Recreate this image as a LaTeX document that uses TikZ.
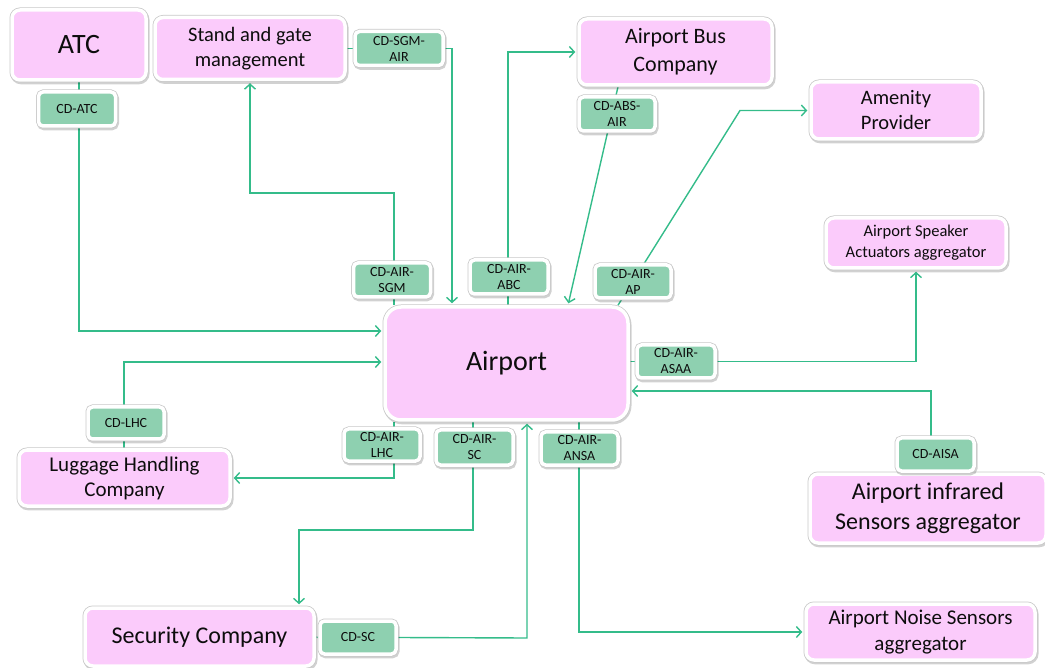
\documentclass[tikz,border=0pt]{standalone}
\usepackage{fontspec}
\setmainfont{Carlito}
\usetikzlibrary{arrows.meta,shadows,backgrounds}
\definecolor{boxpink}{HTML}{FBCBFB}
\definecolor{labgreen}{HTML}{8ED0B0}
\definecolor{linegreen}{HTML}{34BC8A}
\definecolor{framegray}{HTML}{C8C8C8}
\definecolor{txt}{HTML}{0D0D0D}
\newcommand\fsz[2]{\fontsize{#1}{#2}\selectfont}
\tikzset{
  framed/.style={rectangle, draw=white, line width=3.5pt, inner sep=0pt, align=center, text=txt,
    drop shadow={shadow xshift=1pt, shadow yshift=-1.8pt, opacity=0.18, fill=black, draw=black, line width=5pt},
    preaction={draw=framegray, line width=5pt}},
  pbox/.style={framed, rounded corners=8pt, fill=boxpink},
  gbox/.style={framed, rounded corners=4.5pt, fill=labgreen, font=\fsz{14}{16}},
  conn/.style={draw=linegreen, line width=1.4pt},
  arr/.style={conn, -{Straight Barb[length=5pt,width=11pt,line width=1.4pt]}, shorten >=2pt},
}
\begin{document}
\begin{tikzpicture}[x=1pt,y=-1pt]
\useasboundingbox (0,0) rectangle (1045,668);
% main boxes
\node[pbox, minimum width=134pt, minimum height=70pt, font=\fsz{28}{32}] (atc) at (79,45) {ATC};
\node[pbox, minimum width=190pt, minimum height=62pt, font=\fsz{20.5}{25}] (sgm) at (250,48.5) {Stand and gate\\management};
\node[pbox, minimum width=193pt, minimum height=66pt, font=\fsz{22}{28}] (bus) at (675.5,52) {Airport Bus\\Company};
\node[pbox, minimum width=170pt, minimum height=57pt, font=\fsz{20.5}{25}] (amenity) at (896,110.5) {Amenity\\Provider};
\node[pbox, minimum width=180pt, minimum height=50pt, font=\fsz{16.5}{21}] (speaker) at (916,243) {Airport Speaker\\Actuators aggregator};
\node[pbox, rounded corners=16pt, minimum width=243pt, minimum height=113pt, font=\fsz{28}{33}] (airport) at (506.5,363.5) {Airport};
\node[pbox, minimum width=211pt, minimum height=56pt, font=\fsz{21}{25}] (lug) at (124.5,478) {Luggage Handling\\Company};
\node[pbox, minimum width=236pt, minimum height=69pt, font=\fsz{24}{30}] (infra) at (928,508.5) {Airport infrared\\Sensors aggregator};
\node[pbox, minimum width=229pt, minimum height=58pt, font=\fsz{24}{29}] (security) at (199.5,637) {Security Company};
\node[pbox, minimum width=229pt, minimum height=56pt, font=\fsz{21}{26}] (noise) at (920.5,632) {Airport Noise Sensors\\aggregator};
% label boxes
\node[gbox, minimum width=88pt, minimum height=34pt] (cdsgmair) at (399,48.5) {CD-SGM-\\AIR};
\node[gbox, minimum width=77pt, minimum height=34pt] (cdatc) at (77,109) {CD-ATC};
\node[gbox, minimum width=76pt, minimum height=34pt] (cdabsair) at (617,114) {CD-ABS-\\AIR};
\node[gbox, minimum width=77pt, minimum height=34pt] (cdairsgm) at (392,280) {CD-AIR-\\SGM};
\node[gbox, minimum width=78pt, minimum height=34pt] (cdairabc) at (509,277) {CD-AIR-\\ABC};
\node[gbox, minimum width=76pt, minimum height=33pt] (cdairap) at (633,281.5) {CD-AIR-\\AP};
\node[gbox, minimum width=78pt, minimum height=33pt] (cdairasaa) at (676,361.5) {CD-AIR-\\ASAA};
\node[gbox, minimum width=76pt, minimum height=32pt] (cdlhc) at (126,423) {CD-LHC};
\node[gbox, minimum width=76pt, minimum height=32pt] (cdairlhc) at (382,445) {CD-AIR-\\LHC};
\node[gbox, minimum width=77pt, minimum height=35pt] (cdairsc) at (474.5,447.5) {CD-AIR-\\SC};
\node[gbox, minimum width=77pt, minimum height=33pt] (cdairansa) at (579.5,448.5) {CD-AIR-\\ANSA};
\node[gbox, minimum width=77pt, minimum height=33pt] (cdaisa) at (935.5,454.5) {CD-AISA};
\node[gbox, minimum width=76pt, minimum height=33pt] (cdsc) at (358,637.5) {CD-SC};
% bend points
\coordinate (b1) at (79,331);
\coordinate (b2a) at (394,193);
\coordinate (b2b) at (250,193);
\coordinate (b3) at (452,48.5);
\coordinate (b4) at (508,52);
\coordinate (b5a) at (618,0);
\coordinate (b5b) at (568,0);
\coordinate (b6a) at (618,0);
\coordinate (b6b) at (740,110.5);
\coordinate (b8a) at (931,391);
\coordinate (b9) at (124,362);
\coordinate (b10) at (394,478);
\coordinate (b11a) at (473,530);
\coordinate (b11b) at (299,530);
\coordinate (b12) at (527,638);
\coordinate (b13) at (579,632);
\begin{scope}[on background layer]
\draw[arr] (atc.south) -- (b1) -- (b1 -| airport.west);
\draw[arr] (b2a |- airport.north) -- (b2a) -- (b2b) -- (sgm.south);
\draw[conn] (sgm.east) -- (cdsgmair.west);
\draw[arr] (cdsgmair.east) -- (b3) -- (b3 |- airport.north);
\draw[arr] (b4 |- airport.north) -- (b4) -- (bus.west);
\draw[arr] (b5a |- bus.south) -- (b5b |- airport.north);
\draw[arr] (b6a |- airport.north) -- (b6b) -- (amenity.west);
\draw[conn] (airport.east |- cdairasaa) -- (cdairasaa.west);
\draw[arr] (cdairasaa.east) -| (speaker.south);
\draw[arr] (b8a |- infra.north) -- (b8a) -- (b8a -| airport.east);
\draw[arr] (b9 |- lug.north) -- (b9) -- (b9 -| airport.west);
\draw[arr] (b10 |- airport.south) -- (b10) -- (lug.east);
\draw[arr] (b11a |- airport.south) -- (b11a) -- (b11b) -- (b11b |- security.north);
\draw[conn] (security.east) -- (cdsc.west);
\draw[arr] (cdsc.east) -- (b12) -- (b12 |- airport.south);
\draw[arr] (b13 |- airport.south) -- (b13) -- (noise.west);
\end{scope}
\end{tikzpicture}
\end{document}
